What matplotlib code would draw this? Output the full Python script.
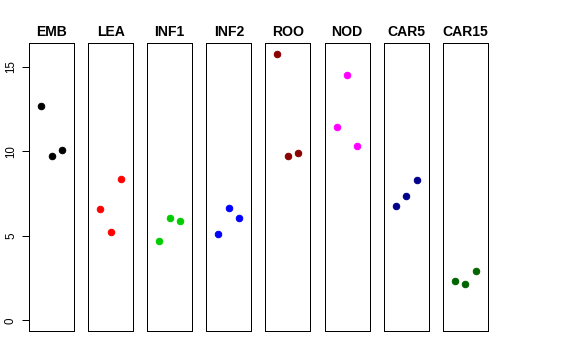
import matplotlib
matplotlib.use("Agg")
import matplotlib.pyplot as plt

categories = ["EMB", "LEA", "INF1", "INF2", "ROO", "NOD", "CAR5", "CAR15"]
colors = ["#000000", "#FF0000", "#00CD00", "#0000FF", "#8B0000", "#FF00FF", "#00008B", "#006400"]
values = {
    "EMB": [12.68, 9.72, 10.08],
    "LEA": [6.57, 5.21, 8.36],
    "INF1": [4.69, 6.07, 5.88],
    "INF2": [5.11, 6.63, 6.04],
    "ROO": [15.78, 9.70, 9.90],
    "NOD": [11.42, 14.53, 10.30],
    "CAR5": [6.76, 7.34, 8.30],
    "CAR15": [2.33, 2.15, 2.92],
}
yticks = [0, 5, 10, 15]

plt.rcParams['font.family'] = ['Liberation Sans', 'DejaVu Sans']

W, H = 576, 360
fig = plt.figure(figsize=(W / 72, H / 72), dpi=72)

ymax = max(max(v) for v in values.values())
pad = 0.04 * ymax
left0, width, step = 29, 45, 59.1
top, bottom = 43, 331

for i, cat in enumerate(categories):
    x0 = left0 + i * step
    ax = fig.add_axes([x0 / W, 1 - bottom / H, width / W, (bottom - top) / H])
    ys = values[cat]
    xs = [1, 2, 3]
    ax.plot(xs, ys, 'o', color=colors[i], markersize=6.5, linestyle='none')
    ax.set_xlim(-0.16, 4.16)
    ax.set_ylim(-pad, ymax + pad)
    ax.set_xticks([])
    for s in ax.spines.values():
        s.set_linewidth(1.0)
        s.set_color('black')
    if i == 0:
        ax.set_yticks(yticks)
        ax.set_yticklabels([str(t) for t in yticks], rotation=90, va='center', fontsize=11.5)
        ax.tick_params(axis='y', length=7, width=1, pad=5)
    else:
        ax.set_yticks([])
    ax.set_title(cat, fontsize=14, fontweight='bold', pad=7)

fig.savefig("out.png", dpi=72)
